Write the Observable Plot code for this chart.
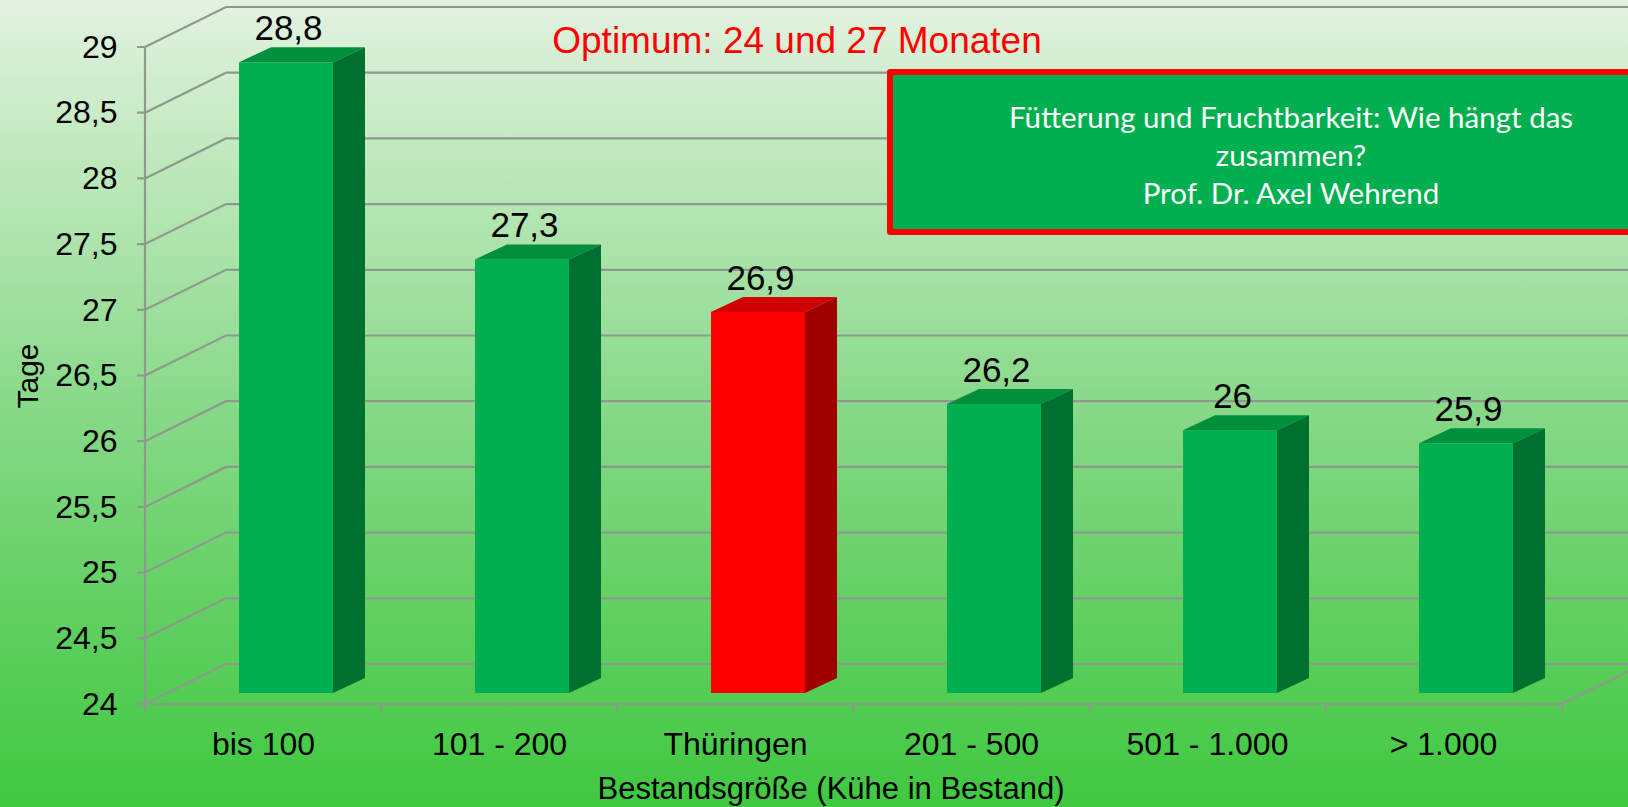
<!DOCTYPE html>
<html>
<head>
<meta charset="utf-8">
<script src="https://cdn.jsdelivr.net/npm/d3@7"></script>
<script src="https://cdn.jsdelivr.net/npm/@observablehq/plot@0.6"></script>
<style>
  html, body { margin: 0; padding: 0; }
  body { width: 1628px; height: 807px; overflow: hidden;
    background: linear-gradient(to bottom, #e3f2e1 0%, #b6e6b4 25%, #88d989 50%, #62d062 75%, #40c840 100%); }
  #wrap { position: relative; width: 1628px; height: 807px; font-family: "Liberation Sans", Arial, sans-serif; }
  #optimum { position: absolute; left: 797px; top: 41px; transform: translate(-50%, -50%);
    color: #ff0000; font-size: 37px; white-space: nowrap; font-family: "Liberation Sans", Arial, sans-serif; }
  #box { position: absolute; left: 887px; top: 69px; width: 760px; height: 154px;
    background: #00b050; border: 6px solid #ff0000; border-radius: 3px; box-sizing: content-box; }
  #boxtext { position: absolute; left: 1291px; top: 155px; transform: translate(-50%, -50%);
    color: #ffffff; font-family: Lato, "Open Sans", sans-serif; font-size: 29.5px; line-height: 38px;
    text-align: center; white-space: nowrap; }
</style>
</head>
<body>
<div id="wrap">
  <div id="chart"></div>
  <div id="optimum"></div>
  <div id="box"></div>
  <div id="boxtext"></div>
</div>
<script>
// ---- data ----
const categories = ["bis 100", "101 - 200", "Thüringen", "201 - 500", "501 - 1.000", "> 1.000"];
const values = [28.8, 27.3, 26.9, 26.2, 26.0, 25.9];
const valueLabels = ["28,8", "27,3", "26,9", "26,2", "26", "25,9"];
const highlighted = ["Thüringen"];
const yTicks = [24, 24.5, 25, 25.5, 26, 26.5, 27, 27.5, 28, 28.5, 29];
const yLabel = "Tage";
const xLabel = "Bestandsgröße (Kühe in Bestand)";
const annotation = "Optimum: 24 und 27 Monaten";
const sourceLines = ["Fütterung und Fruchtbarkeit: Wie hängt das", "zusammen?", "Prof. Dr. Axel Wehrend"];

// ---- styles ----
const gridColor = "#8f9a8f";
const wallDepth = {x: 81, y: -40};
const barOffset = {x: 23, y: -11};
const barDepth = {x: 32, y: -15};
const faces = {
  normal: {front: "#00b050", top: "#00903c", side: "#00702e"},
  highlight: {front: "#ff0000", top: "#d00000", side: "#a00000"}
};

const data = categories.map((c, i) => ({category: c, value: values[i], label: valueLabels[i],
  hl: highlighted.includes(c)}));

document.getElementById("optimum").textContent = annotation;
document.getElementById("boxtext").innerHTML = sourceLines.map(s => s.replace(/&/g, "&amp;").replace(/</g, "&lt;")).join("<br>");

const svgns = "http://www.w3.org/2000/svg";

function gridRender(index, scales, vals, dim) {
  const x0 = dim.marginLeft, x1 = dim.width - dim.marginRight;
  const g = d3.create("svg:g").attr("fill", "none").attr("stroke", gridColor).attr("stroke-width", 2.2);
  const ys = Array.from(index, i => vals.y[i]);
  const yb = Math.max(...ys), yt = Math.min(...ys);
  let d = "";
  for (const y of ys) {
    d += `M${x0},${y}L${x0 + wallDepth.x},${y + wallDepth.y}L${x1 + wallDepth.x},${y + wallDepth.y}`;
    d += `M${x0 - 8},${y}L${x0},${y}`;
  }
  d += `M${x0},${yt}L${x0},${yb}L${x1},${yb}L${x1 + wallDepth.x},${yb + wallDepth.y}`;
  const n = categories.length;
  for (let k = 0; k <= n; ++k) {
    const x = x0 + k * (x1 - x0) / n;
    d += `M${x},${yb}L${x},${yb + 8}`;
  }
  g.append("path").attr("d", d);
  return g.node();
}

function barRender(index, scales, vals, dim, ctx, next) {
  const g = next(index, scales, vals, dim, ctx);
  const rects = Array.from(g.querySelectorAll("rect"));
  rects.forEach((r, j) => {
    const i = index[j];
    const f = data[i].hl ? faces.highlight : faces.normal;
    r.setAttribute("fill", f.front);
    const x = +r.getAttribute("x"), y = +r.getAttribute("y");
    const w = +r.getAttribute("width"), h = +r.getAttribute("height");
    const poly = (pts, fill) => {
      const p = document.createElementNS(svgns, "polygon");
      p.setAttribute("points", pts.map(q => q.join(",")).join(" "));
      p.setAttribute("fill", fill);
      r.parentNode.appendChild(p);
    };
    poly([[x, y], [x + barDepth.x, y + barDepth.y], [x + w + barDepth.x, y + barDepth.y], [x + w, y]], f.top);
    poly([[x + w, y], [x + w + barDepth.x, y + barDepth.y], [x + w + barDepth.x, y + h + barDepth.y], [x + w, y + h]], f.side);
  });
  return g;
}

const chart = Plot.plot({
  width: 1628,
  height: 807,
  marginLeft: 145,
  marginRight: 66,
  marginTop: 47,
  marginBottom: 103,
  style: {background: "transparent", overflow: "visible", fontFamily: "'Liberation Sans', Arial, sans-serif", color: "#000"},
  x: {type: "band", domain: categories, paddingInner: 0.6, paddingOuter: 0.3},
  y: {domain: [yTicks[0], yTicks[yTicks.length - 1]]},
  marks: [
    Plot.ruleY(yTicks, {y: d => d, render: gridRender}),
    Plot.barY(data, {x: "category", y1: () => yTicks[0], y2: "value", fill: "#00b050",
      dx: barOffset.x, dy: barOffset.y, render: barRender}),
    Plot.text(data, {x: "category", y: "value", text: "label", dx: barOffset.x + 2, dy: -45,
      fontSize: 35, fill: "#000", lineAnchor: "middle"}),
    Plot.axisY({ticks: yTicks, tickFormat: d => String(d).replace(".", ","), tickSize: 0, tickPadding: 28,
      fontSize: 32, label: null, fill: "#000"}),
    Plot.axisX({tickSize: 0, tickPadding: 28, fontSize: 32, label: null, fill: "#000"}),
    Plot.text([xLabel], {frameAnchor: "bottom", dx: -23, dy: 85, fontSize: 31, fill: "#000", lineAnchor: "middle"}),
    Plot.text([yLabel], {frameAnchor: "left", dx: -117, rotate: -90, fontSize: 30, fill: "#000",
      lineAnchor: "middle", textAnchor: "middle"})
  ]
});
document.getElementById("chart").appendChild(chart);
</script>
</body>
</html>
